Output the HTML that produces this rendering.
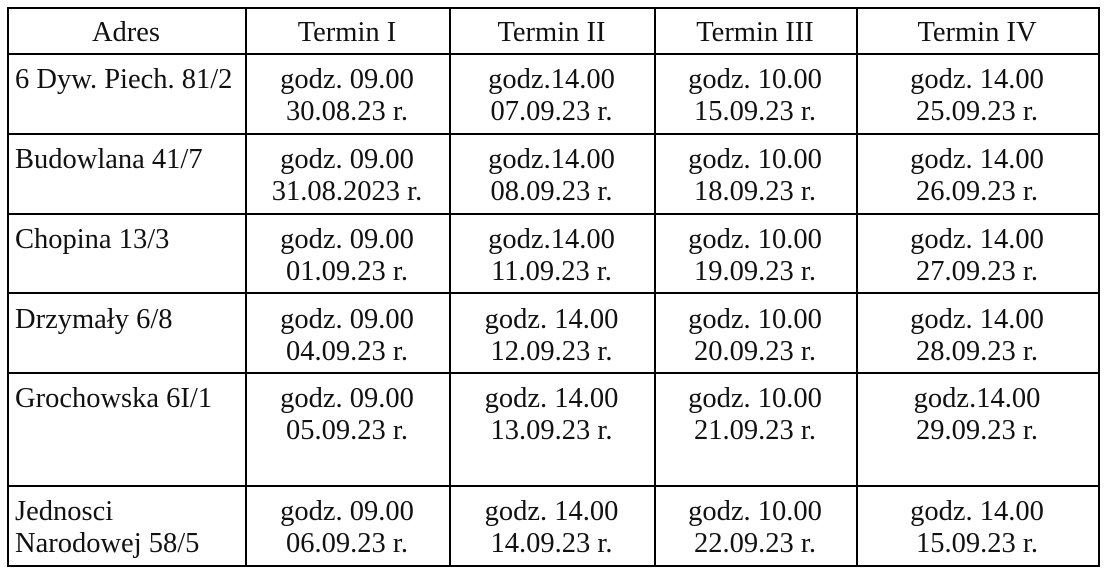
<!DOCTYPE html>
<html><head><meta charset="utf-8"><style>
html,body{margin:0;padding:0;background:#fff;width:1105px;height:573px;overflow:hidden}
body{position:relative;font-family:"Liberation Serif",serif;font-size:28.5px;color:#111}
.h{position:absolute;background:#000;height:1.5px}
.v{position:absolute;background:#000;width:1.5px}
.c{position:absolute;text-align:center;line-height:32px;white-space:nowrap;margin-top:2px}
.l{position:absolute;text-align:left;line-height:32px;white-space:nowrap;margin-top:2px}
</style></head><body>
<div class="h" style="left:7px;width:1092px;top:7px"></div>
<div class="h" style="left:7px;width:1092px;top:53px"></div>
<div class="h" style="left:7px;width:1092px;top:133px"></div>
<div class="h" style="left:7px;width:1092px;top:213px"></div>
<div class="h" style="left:7px;width:1092px;top:292px"></div>
<div class="h" style="left:7px;width:1092px;top:372px"></div>
<div class="h" style="left:7px;width:1092px;top:485px"></div>
<div class="h" style="left:7px;width:1092px;top:565px"></div>
<div class="v" style="top:7px;height:560px;left:7px"></div>
<div class="v" style="top:7px;height:560px;left:245px"></div>
<div class="v" style="top:7px;height:560px;left:449px"></div>
<div class="v" style="top:7px;height:560px;left:654px"></div>
<div class="v" style="top:7px;height:560px;left:856px"></div>
<div class="v" style="top:7px;height:560px;left:1098px"></div>

<div class="c" style="left:7px;width:238px;top:15px">Adres</div>
<div class="c" style="left:245px;width:204px;top:15px">Termin I</div>
<div class="c" style="left:449px;width:205px;top:15px">Termin II</div>
<div class="c" style="left:654px;width:202px;top:15px">Termin III</div>
<div class="c" style="left:856px;width:242px;top:15px">Termin IV</div>

<div class="l" style="left:15px;top:62px">6 Dyw. Piech. 81/2</div>
<div class="c" style="left:245px;width:204px;top:62px">godz. 09.00<br>30.08.23 r.</div>
<div class="c" style="left:449px;width:205px;top:62px">godz.14.00<br>07.09.23 r.</div>
<div class="c" style="left:654px;width:202px;top:62px">godz. 10.00<br>15.09.23 r.</div>
<div class="c" style="left:856px;width:242px;top:62px">godz. 14.00<br>25.09.23 r.</div>

<div class="l" style="left:15px;top:142px">Budowlana 41/7</div>
<div class="c" style="left:245px;width:204px;top:142px">godz. 09.00<br>31.08.2023 r.</div>
<div class="c" style="left:449px;width:205px;top:142px">godz.14.00<br>08.09.23 r.</div>
<div class="c" style="left:654px;width:202px;top:142px">godz. 10.00<br>18.09.23 r.</div>
<div class="c" style="left:856px;width:242px;top:142px">godz. 14.00<br>26.09.23 r.</div>

<div class="l" style="left:15px;top:222px">Chopina 13/3</div>
<div class="c" style="left:245px;width:204px;top:222px">godz. 09.00<br>01.09.23 r.</div>
<div class="c" style="left:449px;width:205px;top:222px">godz.14.00<br>11.09.23 r.</div>
<div class="c" style="left:654px;width:202px;top:222px">godz. 10.00<br>19.09.23 r.</div>
<div class="c" style="left:856px;width:242px;top:222px">godz. 14.00<br>27.09.23 r.</div>

<div class="l" style="left:15px;top:302px">Drzymały 6/8</div>
<div class="c" style="left:245px;width:204px;top:302px">godz. 09.00<br>04.09.23 r.</div>
<div class="c" style="left:449px;width:205px;top:302px">godz. 14.00<br>12.09.23 r.</div>
<div class="c" style="left:654px;width:202px;top:302px">godz. 10.00<br>20.09.23 r.</div>
<div class="c" style="left:856px;width:242px;top:302px">godz. 14.00<br>28.09.23 r.</div>

<div class="l" style="left:15px;top:381px">Grochowska 6I/1</div>
<div class="c" style="left:245px;width:204px;top:381px">godz. 09.00<br>05.09.23 r.</div>
<div class="c" style="left:449px;width:205px;top:381px">godz. 14.00<br>13.09.23 r.</div>
<div class="c" style="left:654px;width:202px;top:381px">godz. 10.00<br>21.09.23 r.</div>
<div class="c" style="left:856px;width:242px;top:381px">godz.14.00<br>29.09.23 r.</div>

<div class="l" style="left:15px;top:494px">Jednosci<br>Narodowej 58/5</div>
<div class="c" style="left:245px;width:204px;top:494px">godz. 09.00<br>06.09.23 r.</div>
<div class="c" style="left:449px;width:205px;top:494px">godz. 14.00<br>14.09.23 r.</div>
<div class="c" style="left:654px;width:202px;top:494px">godz. 10.00<br>22.09.23 r.</div>
<div class="c" style="left:856px;width:242px;top:494px">godz. 14.00<br>15.09.23 r.</div>
</body></html>
